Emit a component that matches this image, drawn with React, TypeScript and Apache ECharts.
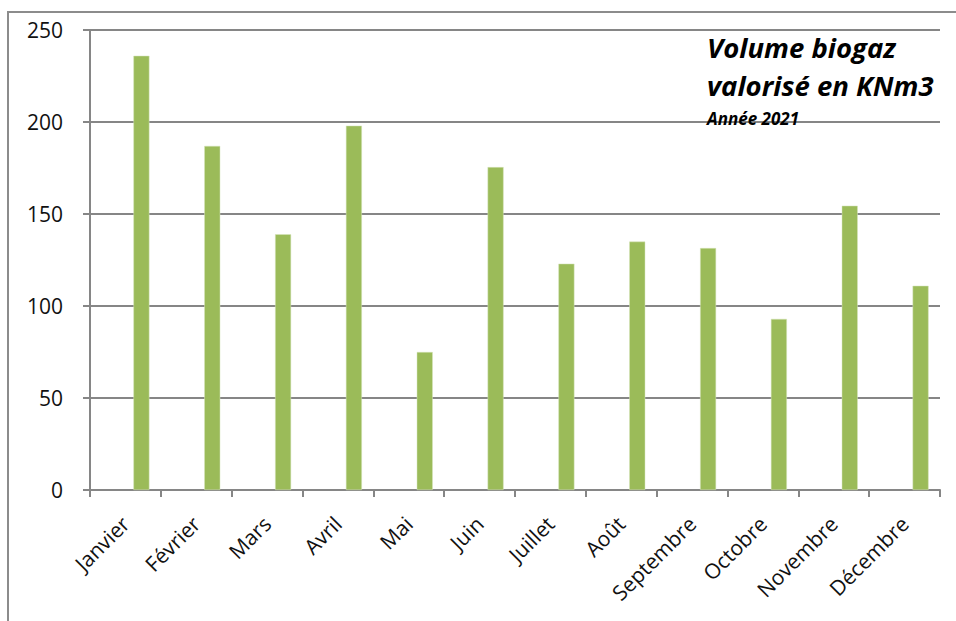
import React, { useEffect, useRef } from "react";
import * as echarts from "echarts";

const months = ["Janvier", "Février", "Mars", "Avril", "Mai", "Juin", "Juillet", "Août", "Septembre", "Octobre", "Novembre", "Décembre"];
const volumes = [236, 187, 139, 198, 75, 175.5, 123, 135, 131.5, 93, 154.5, 111];
const emptySeriesA: (number | null)[] = months.map(() => null);
const emptySeriesB: (number | null)[] = months.map(() => null);
const titleLines = ["Volume biogaz", "valorisé en KNm3"];
const subtitle = "Année 2021";

const FONT = "'Open Sans', 'Noto Sans', sans-serif";

export default function App() {
  const ref = useRef<HTMLDivElement>(null);
  useEffect(() => {
    if (!ref.current) return;
    const chart = echarts.init(ref.current, undefined, { renderer: "svg" });
    chart.setOption({
      animation: false,
      backgroundColor: "#ffffff",
      grid: { left: 90, right: 16, top: 30, bottom: 131, containLabel: false },
      graphic: [
        {
          type: "rect",
          shape: { x: 8, y: 12, width: 1200, height: 800 },
          style: { fill: "none", stroke: "#8c8c8c", lineWidth: 2 },
          silent: true,
          z: -1,
        },
        {
          type: "text",
          x: 707,
          y: 47,
          style: {
            text: titleLines[0],
            font: `italic bold 27.5px ${FONT}`,
            fill: "#000000",
            verticalAlign: "middle",
          },
          z: 10,
        },
        {
          type: "text",
          x: 707,
          y: 85,
          style: {
            text: titleLines[1],
            font: `italic bold 27.5px ${FONT}`,
            fill: "#000000",
            verticalAlign: "middle",
          },
          z: 10,
        },
        {
          type: "text",
          x: 707,
          y: 118,
          style: {
            text: subtitle,
            font: `italic bold 17px ${FONT}`,
            fill: "#000000",
            verticalAlign: "middle",
          },
          z: 10,
        },
      ],
      xAxis: {
        type: "category",
        data: months,
        boundaryGap: true,
        axisLine: { show: true, lineStyle: { color: "#868686", width: 2 } },
        axisTick: { show: true, length: 7, interval: 0, lineStyle: { color: "#868686", width: 2 } },
        axisLabel: {
          interval: 0,
          rotate: 45,
          margin: 30,
          color: "#111111",
          fontSize: 21,
          fontFamily: FONT,
        },
      },
      yAxis: {
        type: "value",
        min: 0,
        max: 250,
        interval: 50,
        axisLine: { show: true, lineStyle: { color: "#868686", width: 2 } },
        axisTick: { show: true, length: 7, lineStyle: { color: "#868686", width: 2 } },
        axisLabel: { margin: 27, color: "#111111", fontSize: 21, fontFamily: FONT },
        splitLine: { show: true, lineStyle: { color: "#868686", width: 2 } },
      },
      series: [
        { name: "A", type: "bar", data: emptySeriesA, barWidth: 16, barGap: "0%" },
        { name: "B", type: "bar", data: emptySeriesB, barWidth: 16, barGap: "0%" },
        {
          name: "Volume",
          type: "bar",
          data: volumes,
          barWidth: 16,
          barGap: "0%",
          itemStyle: { color: "#9bbb59", borderColor: "#d7e4bd", borderWidth: 0.5 },
        },
      ],
    });
    return () => chart.dispose();
  }, []);
  return <div ref={ref} style={{ position: "fixed", left: 0, top: 0, width: 956, height: 621 }} />;
}
